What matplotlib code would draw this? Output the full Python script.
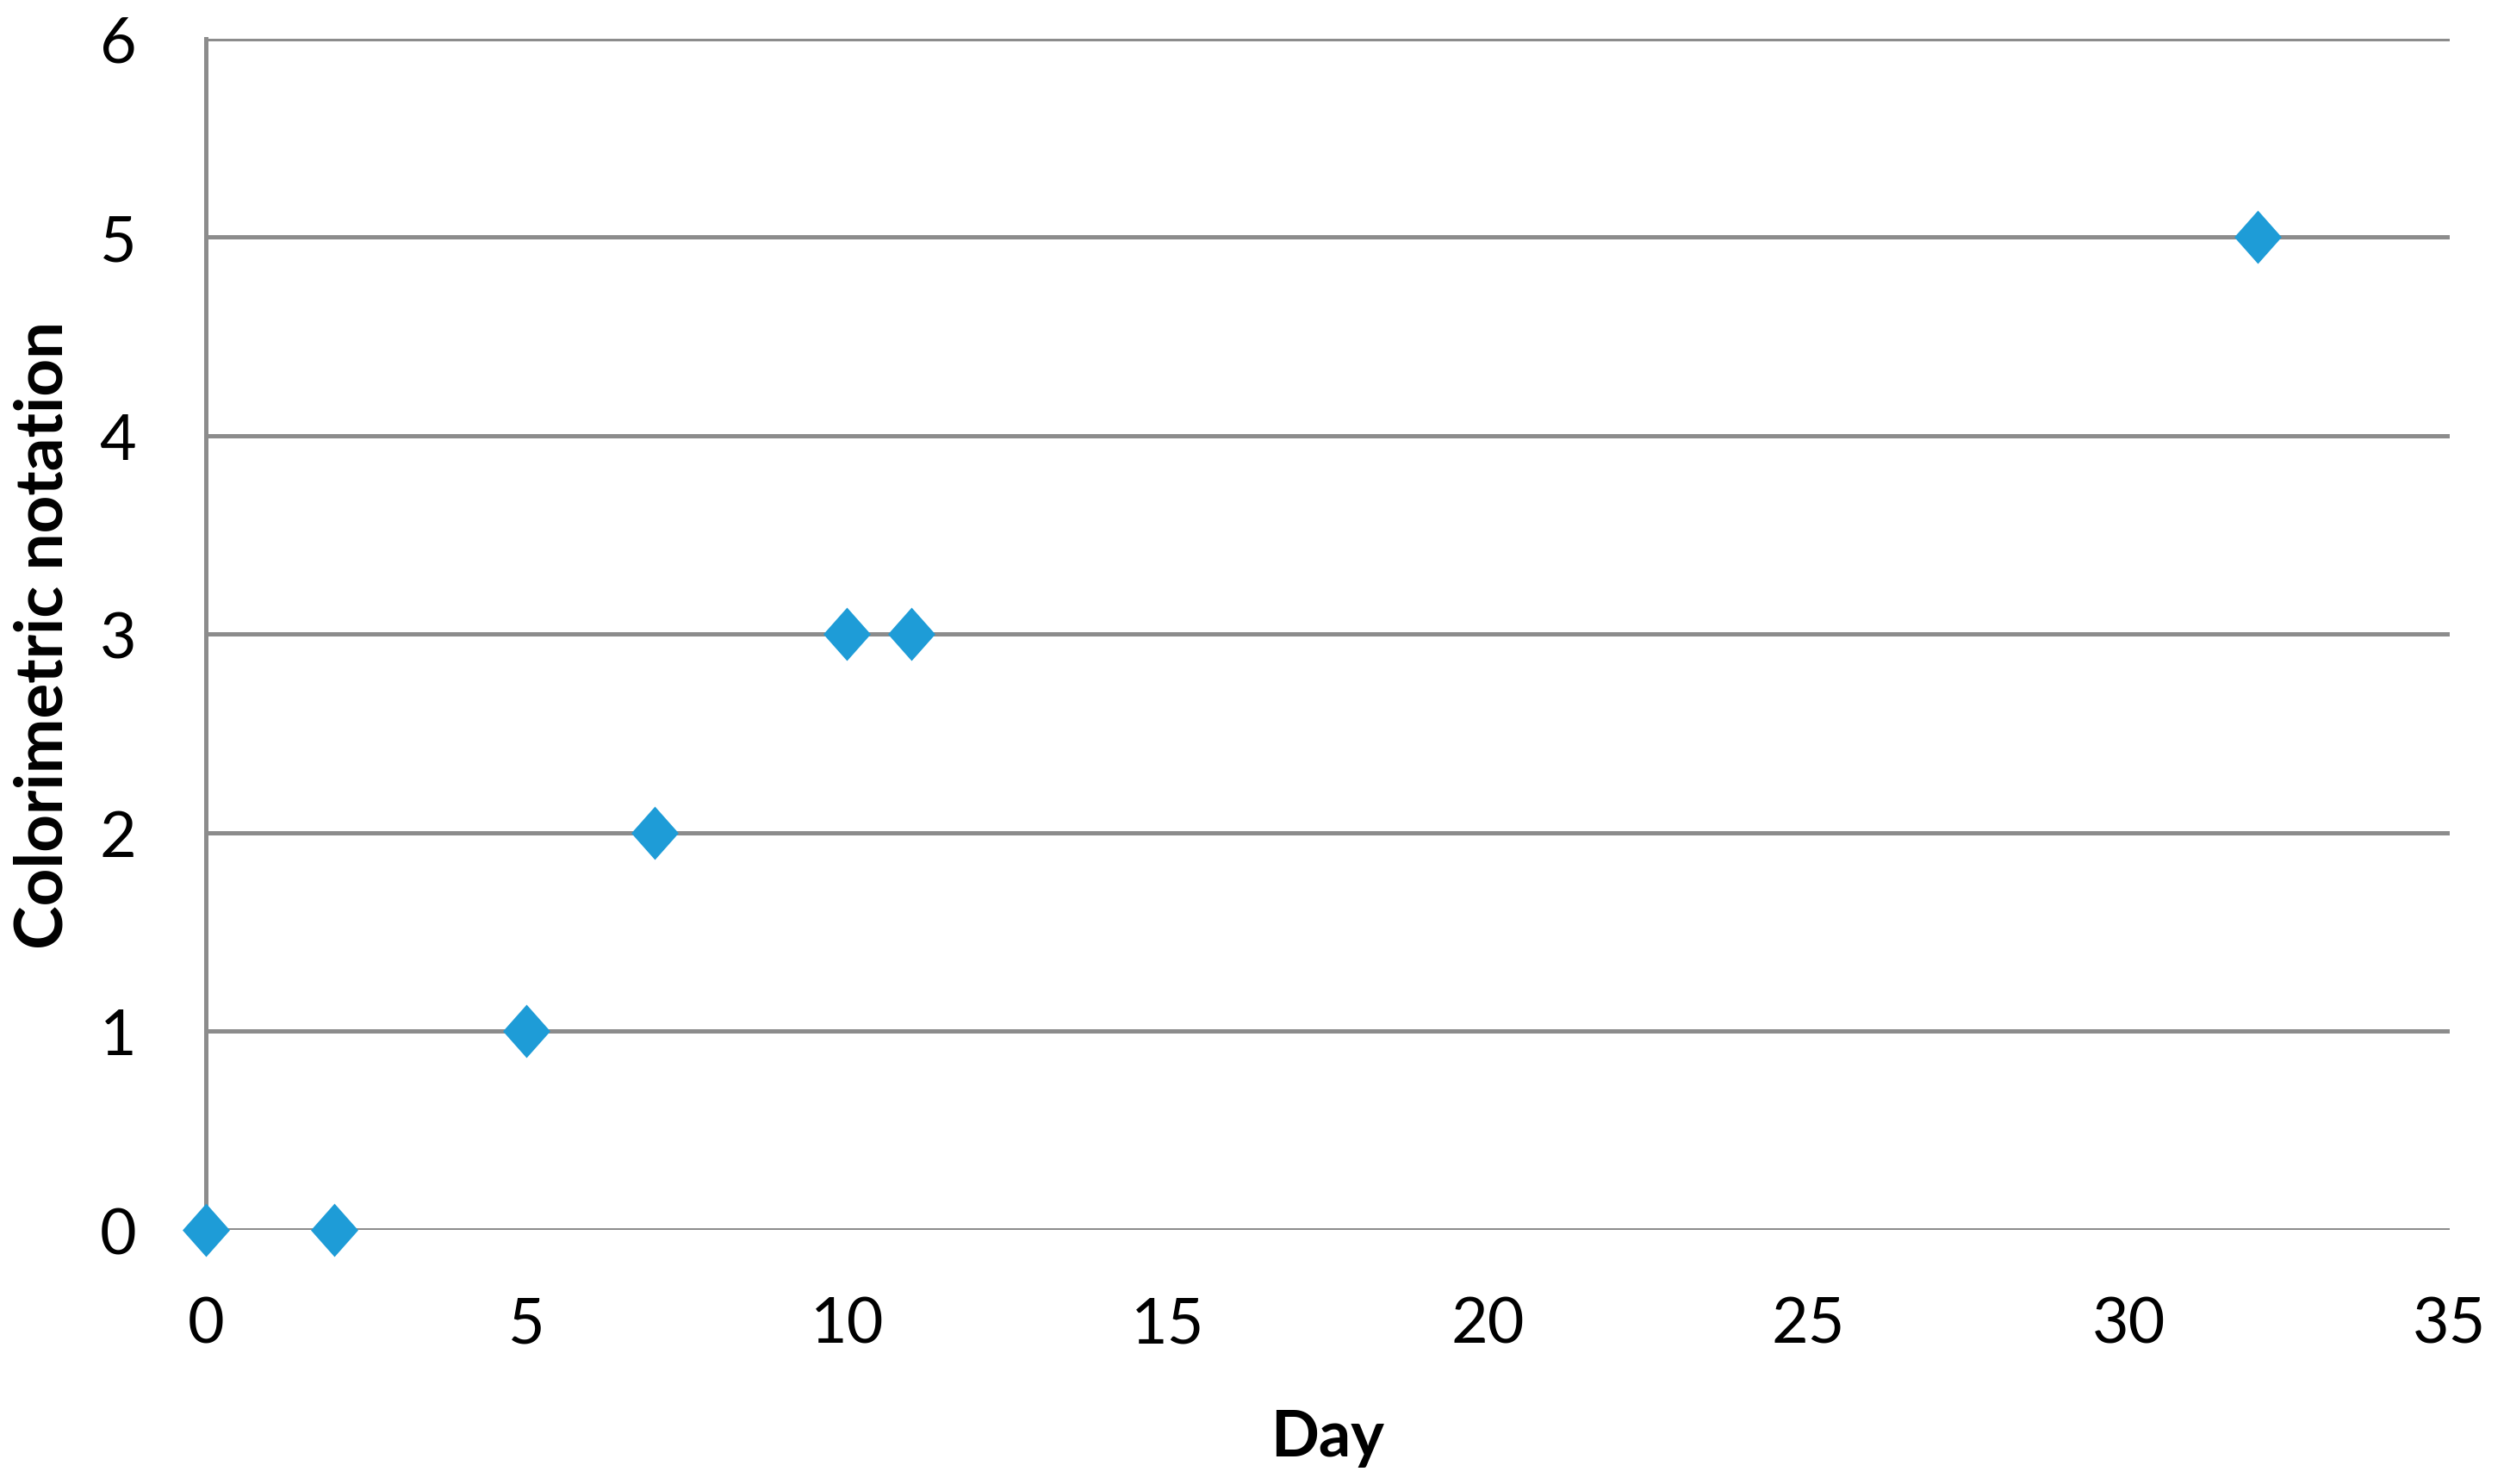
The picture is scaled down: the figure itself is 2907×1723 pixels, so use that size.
import matplotlib
matplotlib.use("Agg")
import matplotlib.pyplot as plt
from matplotlib.path import Path

days = [0, 2, 5, 7, 10, 11, 32]
notation = [0, 0, 1, 2, 3, 3, 5]
x_ticks = [0, 5, 10, 15, 20, 25, 30, 35]
y_ticks = [0, 1, 2, 3, 4, 5, 6]

plt.rcParams['font.family'] = ['Lato', 'DejaVu Sans']

fig = plt.figure(figsize=(29.07, 17.24), dpi=100)
ax = fig.add_axes([0.0822, 0.1711, 0.8961, 0.8025])

grid_c = '#8C8C8C'
diamond = Path([(0, 1), (0.887, 0), (0, -1), (-0.887, 0), (0, 1)],
               [Path.MOVETO, Path.LINETO, Path.LINETO, Path.LINETO, Path.CLOSEPOLY])

ax.scatter(days, notation, marker=diamond, s=44.6**2, color='#1E9CD7',
           linewidths=0, zorder=3, clip_on=False)

ax.set_xlim(0, 35)
ax.set_ylim(0, 6)
ax.set_xticks(x_ticks)
ax.set_yticks(y_ticks)
ax.yaxis.grid(True, color=grid_c, linewidth=3.6)
ax.xaxis.grid(False)
ax.set_axisbelow(True)
for s in ['top', 'right', 'bottom']:
    ax.spines[s].set_visible(False)
ax.spines['left'].set_color(grid_c)
ax.spines['left'].set_linewidth(3.6)
ax.tick_params(axis='both', length=0, labelsize=53, colors='black')
ax.tick_params(axis='x', pad=55)
ax.tick_params(axis='y', pad=58)

ax.set_xlabel('Day', fontsize=53, fontweight='bold', labelpad=45)
ax.set_ylabel('Colorimetric notation', fontsize=55, fontweight='bold', labelpad=22)

fig.savefig('out.png', dpi=100, facecolor='white')
